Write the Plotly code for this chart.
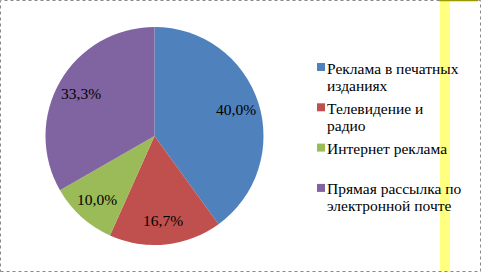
import math
import plotly.graph_objects as go

categories = [
    "Реклама в печатных<br>изданиях",
    "Телевидение и<br>радио",
    "Интернет реклама",
    "Прямая рассылка по<br>электронной почте",
]
values = [40.0, 16.7, 10.0, 33.3]
colors = ["#4F81BD", "#C0504D", "#9BBB59", "#8064A2"]

W, H = 481, 272
FONT = "Liberation Serif, Times New Roman, serif"
FS = 15.5
labels_text = [f"{v:.1f}%".replace(".", ",") for v in values]

# pie domain in pixels
px0, px1, py0, py1 = 45, 264, 27, 245
cx, cy = (px0 + px1) / 2, (py0 + py1) / 2
R = (px1 - px0) / 2

fig = go.Figure()
fig.add_trace(go.Pie(
    labels=[c.replace("<br>", " ") for c in categories],
    values=values,
    textinfo="none",
    marker=dict(colors=colors, line=dict(width=0)),
    sort=False,
    direction="clockwise",
    rotation=0,
    showlegend=False,
    hoverinfo="label+percent",
    domain=dict(x=[px0 / W, px1 / W], y=[1 - py1 / H, 1 - py0 / H]),
))

annotations = []
shapes = []

# data labels placed along the slice bisectors
total = sum(values)
cum = 0.0
for v, t in zip(values, labels_text):
    mid = (cum + v / 2) / total * 2 * math.pi
    cum += v
    r = 0.78 * R
    lx = cx + r * math.sin(mid)
    ly = cy - r * math.cos(mid)
    annotations.append(dict(
        x=lx / W, y=1 - ly / H, xref="paper", yref="paper",
        text=t, showarrow=False, xanchor="center", yanchor="middle",
        font=dict(family=FONT, size=FS, color="black"),
    ))

# legend (key squares + text lines)
leg_key_x0, key_size = 317, 8
leg_text_x = 326
leg_y0, leg_step, line_step = 67, 40.3, 17
for i, (cat, col) in enumerate(zip(categories, colors)):
    yc = leg_y0 + i * leg_step
    shapes.append(dict(
        type="rect", xref="paper", yref="paper",
        x0=leg_key_x0 / W, x1=(leg_key_x0 + key_size) / W,
        y0=1 - (yc + key_size / 2) / H, y1=1 - (yc - key_size / 2) / H,
        fillcolor=col, line=dict(width=0),
    ))
    for j, line in enumerate(cat.split("<br>")):
        ly = yc + j * line_step
        annotations.append(dict(
            x=leg_text_x / W, y=1 - (ly + 1) / H, xref="paper", yref="paper",
            text=line, showarrow=False, xanchor="left", yanchor="middle",
            font=dict(family=FONT, size=FS, color="black"),
            borderpad=0,
        ))

shapes += [
    dict(type="rect", xref="paper", yref="paper",
         x0=440 / W, x1=450 / W, y0=0, y1=1,
         fillcolor="#FFFF80", line=dict(width=0), layer="below"),
    dict(type="rect", xref="paper", yref="paper",
         x0=0.5 / W, x1=1 - 0.5 / W, y0=0.5 / H, y1=1 - 0.5 / H,
         line=dict(color="#888888", width=1, dash="dot"), fillcolor="rgba(0,0,0,0)"),
    dict(type="line", xref="paper", yref="paper",
         x0=439 / W, x1=478 / W, y0=1 - 0.5 / H, y1=1 - 0.5 / H,
         line=dict(color="#9A9A00", width=1.5)),
]

fig.update_layout(
    width=W, height=H,
    margin=dict(l=0, r=0, t=0, b=0),
    paper_bgcolor="white",
    plot_bgcolor="white",
    font=dict(family=FONT, size=FS, color="black"),
    annotations=annotations,
    shapes=shapes,
    showlegend=False,
)

fig.write_html("out.html")
